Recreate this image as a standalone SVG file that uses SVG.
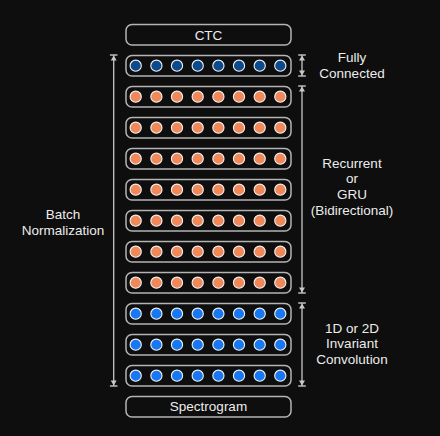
<svg xmlns="http://www.w3.org/2000/svg" width="440" height="436" viewBox="0 0 440 436">
<style>
text{font-family:"Liberation Sans",Arial,sans-serif;font-size:13.5px;fill:#ececec;text-anchor:middle}
.box{fill:none;stroke:#b4b4b4;stroke-width:1.5}
.c{stroke:#f2f2f2;stroke-width:1.1}
.fc{fill:#0d4a8c}
.rn{fill:#f0885a}
.cv{fill:#1877f2}
.arr{stroke:#c8c8c8;stroke-width:1.3;fill:none;marker-start:url(#cap);marker-end:url(#cap)}
</style>
<defs>
<marker id="cap" markerUnits="userSpaceOnUse" viewBox="-8 -5 10 10" refX="0" refY="0" markerWidth="10" markerHeight="10" orient="auto-start-reverse">
<path d="M-0.6,0 L-5.5,-3 L-5.5,3 Z" fill="#c8c8c8"/>
<path d="M0,-3.8 L0,3.8" stroke="#c8c8c8" stroke-width="1.4"/>
</marker>
<g id="dots">
<circle cx="135.7" cy="0" r="5.6"/><circle cx="156.4" cy="0" r="5.6"/><circle cx="177" cy="0" r="5.6"/><circle cx="197.7" cy="0" r="5.6"/><circle cx="218.4" cy="0" r="5.6"/><circle cx="239" cy="0" r="5.6"/><circle cx="259.7" cy="0" r="5.6"/><circle cx="280.3" cy="0" r="5.6"/>
</g>
</defs>
<rect width="440" height="436" fill="#0e0e0e"/>
<g id="ctc"><rect class="box" x="126" y="24.5" width="165" height="20.5" rx="6"/><text x="208.5" y="40">CTC</text></g>
<g id="fc-layer"><rect class="box" x="126" y="55.5" width="165" height="20.5" rx="6"/><use href="#dots" y="65.7" class="c fc"/></g>
<g id="rnn1"><rect class="box" x="126" y="86.5" width="165" height="20.5" rx="6"/><use href="#dots" y="96.7" class="c rn"/></g>
<g id="rnn2"><rect class="box" x="126" y="117.5" width="165" height="20.5" rx="6"/><use href="#dots" y="127.7" class="c rn"/></g>
<g id="rnn3"><rect class="box" x="126" y="148.5" width="165" height="20.5" rx="6"/><use href="#dots" y="158.7" class="c rn"/></g>
<g id="rnn4"><rect class="box" x="126" y="179.5" width="165" height="20.5" rx="6"/><use href="#dots" y="189.7" class="c rn"/></g>
<g id="rnn5"><rect class="box" x="126" y="210.5" width="165" height="20.5" rx="6"/><use href="#dots" y="220.7" class="c rn"/></g>
<g id="rnn6"><rect class="box" x="126" y="241.5" width="165" height="20.5" rx="6"/><use href="#dots" y="251.7" class="c rn"/></g>
<g id="rnn7"><rect class="box" x="126" y="272.5" width="165" height="20.5" rx="6"/><use href="#dots" y="282.7" class="c rn"/></g>
<g id="conv1"><rect class="box" x="126" y="303.5" width="165" height="20.5" rx="6"/><use href="#dots" y="313.7" class="c cv"/></g>
<g id="conv2"><rect class="box" x="126" y="334.5" width="165" height="20.5" rx="6"/><use href="#dots" y="344.7" class="c cv"/></g>
<g id="conv3"><rect class="box" x="126" y="365.5" width="165" height="20.5" rx="6"/><use href="#dots" y="375.7" class="c cv"/></g>
<g id="spectrogram"><rect class="box" x="126" y="396.5" width="165" height="20.5" rx="6"/><text x="208.5" y="411">Spectrogram</text></g>
<g id="connectors">
<line class="arr" x1="113.7" y1="55" x2="113.7" y2="386"/>
<line class="arr" x1="302" y1="55" x2="302" y2="76"/>
<line class="arr" x1="302" y1="86" x2="302" y2="293"/>
<line class="arr" x1="302" y1="303" x2="302" y2="386"/>
</g>
<g id="labels">
<text x="63" y="219">Batch</text><text x="63" y="235">Normalization</text>
<text x="352" y="61.5">Fully</text><text x="352" y="77.5">Connected</text>
<text x="352" y="167.5">Recurrent</text><text x="352" y="183">or</text><text x="352" y="199">GRU</text><text x="352" y="214.5">(Bidirectional)</text>
<text x="352" y="332.5">1D or 2D</text><text x="352" y="348">Invariant</text><text x="352" y="364">Convolution</text>
</g>
</svg>
